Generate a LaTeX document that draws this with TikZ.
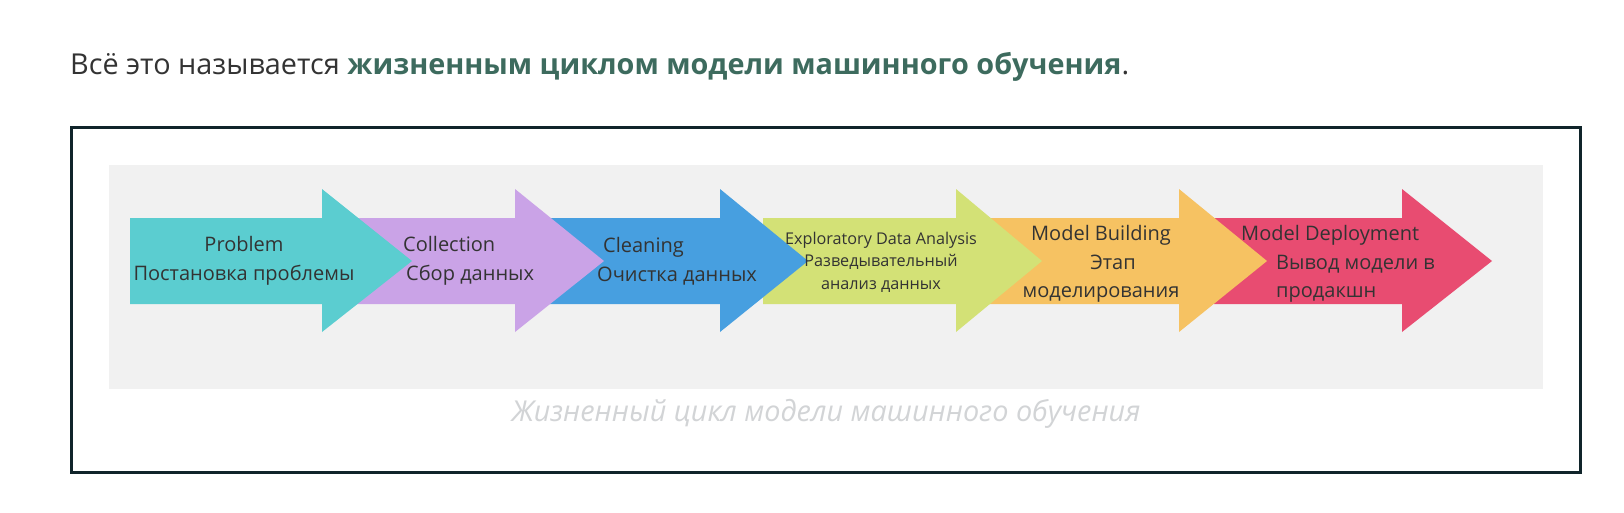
\documentclass[tikz,border=0pt]{standalone}
\usepackage{fontspec}
\setmainfont{Open Sans}
\usepackage{tikz}
\usetikzlibrary{positioning}
\definecolor{lcInk}{HTML}{333333}
\definecolor{lcTitle}{HTML}{3D6B5E}
\definecolor{lcFrame}{HTML}{10242A}
\definecolor{lcPanel}{HTML}{F1F1F1}
\definecolor{lcCaption}{HTML}{D2D4D6}
\definecolor{lcTeal}{HTML}{5BCDD0}
\definecolor{lcViolet}{HTML}{CAA3E7}
\definecolor{lcBlue}{HTML}{479FE0}
\definecolor{lcLime}{HTML}{D3E176}
\definecolor{lcAmber}{HTML}{F6C262}
\definecolor{lcRose}{HTML}{E84C71}
\tikzset{
  lc diagram/.style={x=1pt, y=-1pt, text=lcInk},
  lc stage/.style={font=\fontsize{20}{28.5}\selectfont, text=lcInk,
    inner sep=0pt},
  lc small stage/.style={lc stage, font=\fontsize{16.2}{22.5}\selectfont},
  lc frame/.style={draw=lcFrame, line width=3pt},
  lc caption/.style={font=\fontsize{28.8}{32}\selectfont\itshape,
    text=lcCaption, inner sep=0pt}
}
% one stage arrow: body left, head back, tip, colour
\newcommand{\lcArrow}[4]{%
  \fill[#4] (#1,218) -- (#2,218) -- (#2,189) -- (#3,261)
    -- (#2,332) -- (#2,304) -- (#1,304) -- cycle;}

\begin{document}
\begin{tikzpicture}[lc diagram]
\useasboundingbox[fill=white] (0,0) rectangle (1624,512);
\node[anchor=base west, inner sep=0pt, font=\fontsize{28.8}{34}\selectfont]
  (title) at (70,74)
  {Всё это называется \textbf{\color{lcTitle}жизненным циклом модели машинного обучения}.};
\draw[lc frame] (71.5,127.5) rectangle (1580.5,472.5);
\fill[lcPanel] (109,165) rectangle (1543,389);
% arrows, the earlier stage lies on top
\lcArrow{1214}{1402}{1492}{lcRose}
\lcArrow{985}{1179}{1267}{lcAmber}
\lcArrow{763}{956}{1042}{lcLime}
\lcArrow{548}{720}{808}{lcBlue}
\lcArrow{345}{515}{604}{lcViolet}
\lcArrow{130}{322}{412}{lcTeal}
\node[lc stage, align=center] (problem) at (244,261)
  {Problem\\Постановка проблемы};
\node[lc stage, align=left, anchor=west] (collection) at (403,261)
  {Collection\\\hspace*{3pt}Сбор данных};
\node[lc stage, align=left, anchor=west] (cleaning) at (597,261)
  {\hspace*{6pt}Cleaning\\Очистка данных};
\node[lc small stage, align=center] (eda) at (881,262)
  {Exploratory Data Analysis\\Разведывательный\\анализ данных};
\node[lc stage, align=center] (building) at (1101,264)
  {Model Building\\\hspace*{24pt}Этап\\моделирования};
\node[lc stage, align=left, anchor=west] (deployment) at (1241,264)
  {Model Deployment\\\hspace*{35pt}Вывод модели в\\\hspace*{35pt}продакшн};
\node[lc caption] (caption) at (826,414)
  {Жизненный цикл модели машинного обучения};
\end{tikzpicture}
\end{document}
